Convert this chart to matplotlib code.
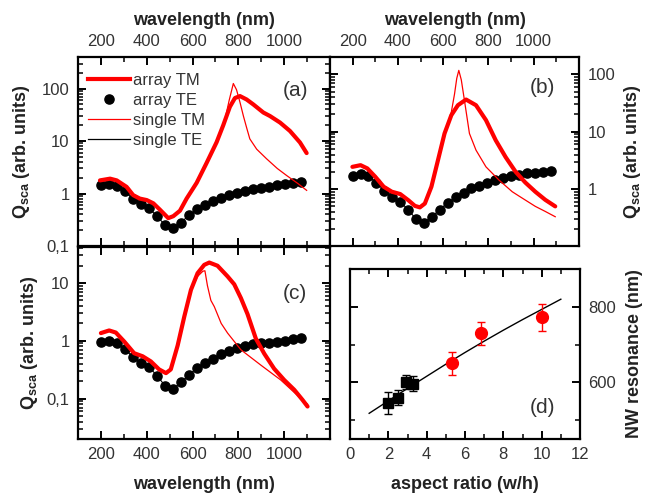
import matplotlib
matplotlib.use('Agg')
import matplotlib.pyplot as plt
from matplotlib.lines import Line2D
from matplotlib.ticker import LogLocator, FuncFormatter, MultipleLocator, NullFormatter, FixedLocator

plt.rcParams['font.family'] = ['Liberation Sans', 'DejaVu Sans']
plt.rcParams['mathtext.fontset'] = 'custom'
plt.rcParams['mathtext.rm'] = 'Liberation Sans'
plt.rcParams['mathtext.bf'] = 'Liberation Sans:bold'
plt.rcParams['mathtext.it'] = 'Liberation Sans:italic'

# ---------------- data ----------------
te_wl = [200, 235, 270, 305, 340, 375, 410, 445, 480, 515, 550, 585, 620, 655,
         690, 725, 760, 795, 830, 865, 900, 935, 970, 1005, 1040, 1075]

# panel (a)
a_te = [1.48, 1.55, 1.40, 1.10, 0.79, 0.62, 0.52, 0.37, 0.25, 0.225, 0.28, 0.39, 0.50,
        0.60, 0.72, 0.83, 0.93, 1.03, 1.10, 1.20, 1.28, 1.34, 1.43, 1.55, 1.61, 1.68]
a_tm_wl = [196, 240, 269, 312, 341, 370, 400, 429, 458, 494, 516, 545, 574, 618, 661,
           705, 734, 763, 785, 807, 836, 865, 909, 938, 982, 1025, 1069, 1098]
a_tm = [1.78, 1.92, 1.78, 1.34, 0.93, 0.80, 0.75, 0.65, 0.49, 0.34, 0.37, 0.47, 0.8,
        1.6, 3.8, 9.5, 20, 45, 66, 72, 62, 50, 35, 30, 22.5, 15.6, 9.4, 5.9]
a_stm_wl = [196, 240, 269, 312, 341, 370, 400, 429, 458, 494, 516, 545, 574, 618, 661,
            705, 740, 760, 778, 792, 807, 822, 836, 850, 880, 923, 970, 1011, 1060, 1098]
a_stm = [1.78, 1.92, 1.78, 1.34, 0.93, 0.80, 0.75, 0.65, 0.49, 0.34, 0.37, 0.47, 0.8,
         1.6, 3.8, 9.5, 24, 60, 125, 95, 55, 30, 18, 11, 7.0, 4.6, 3.0, 2.2, 1.55, 1.15]

# panel (b)
b_te = [1.68, 1.82, 1.68, 1.29, 0.93, 0.72, 0.60, 0.44, 0.30, 0.26, 0.33, 0.44, 0.58,
        0.72, 0.86, 1.03, 1.14, 1.29, 1.43, 1.53, 1.68, 1.77, 1.87, 1.92, 1.98, 2.03]
b_tm_wl = [199, 235, 265, 300, 337, 373, 410, 446, 475, 497, 519, 548, 577, 606, 636,
           665, 701, 745, 789, 832, 876, 920, 963, 1007, 1051, 1095]
b_tm = [2.44, 2.61, 2.29, 1.64, 1.10, 0.90, 0.82, 0.64, 0.51, 0.48, 0.56, 1.10, 3.19,
        9.3, 19.4, 28.9, 36.3, 28.9, 15.9, 7.1, 3.6, 2.0, 1.3, 0.9, 0.65, 0.5]
b_stm_wl = [199, 235, 265, 300, 337, 373, 410, 446, 475, 497, 519, 548, 577, 606, 636,
            650, 660, 669, 680, 694, 716, 745, 789, 847, 905, 934, 1007, 1050, 1095]
b_stm = [2.44, 2.61, 2.29, 1.64, 1.10, 0.90, 0.82, 0.64, 0.51, 0.48, 0.56, 1.10, 3.0,
         8.5, 22, 45, 85, 117, 80, 35, 9.3, 4.77, 2.44, 1.43, 0.9, 0.76, 0.5, 0.41, 0.33]

# panel (c)
c_te = [0.95, 1.01, 0.93, 0.72, 0.52, 0.42, 0.35, 0.25, 0.166, 0.148, 0.19, 0.26, 0.34,
        0.41, 0.49, 0.59, 0.67, 0.75, 0.80, 0.88, 0.90, 0.93, 0.97, 1.01, 1.07, 1.10]
c_tm_wl = [200, 236, 265, 302, 345, 382, 418, 454, 484, 505, 535, 564, 593, 622, 651,
           673, 709, 753, 782, 811, 840, 876, 913, 956, 1000, 1044, 1080, 1102]
c_tm = [1.36, 1.51, 1.39, 0.97, 0.61, 0.54, 0.44, 0.32, 0.276, 0.32, 0.83, 2.63, 7.6,
        14.8, 20.6, 22.6, 19.9, 13, 9.5, 5.5, 2.9, 1.1, 0.6, 0.33, 0.21, 0.142, 0.095, 0.073]
c_stm_wl = [200, 236, 265, 302, 345, 382, 418, 454, 484, 505, 535, 564, 593, 622, 645,
            654, 665, 680, 695, 725, 753, 811, 898, 985, 1073, 1102]
c_stm = [1.36, 1.51, 1.39, 0.97, 0.61, 0.54, 0.44, 0.32, 0.276, 0.32, 0.83, 2.63, 7.6,
         13, 16, 16.3, 9, 5, 3.9, 2.0, 1.36, 0.70, 0.38, 0.21, 0.10, 0.08]

# panel (d)
sq_ar = [2.0, 2.5, 2.92, 3.27]
sq_res = [545, 559, 601, 596]
sq_err = [30, 20, 18, 20]
ci_ar = [5.34, 6.82, 10.0]
ci_res = [650, 730, 772]
ci_err = [30, 31, 35]
fit_ar = [1, 2, 3, 4, 5, 6, 7, 8, 9, 10, 11]
fit_res = [518, 551, 584, 616, 648, 679, 709, 738, 766, 793, 820]

RED = '#ff0000'
TXT = '#333333'
LAB = '#222222'

W, H = 645, 500
fig = plt.figure(figsize=(W / 100, H / 100), dpi=100)


def rect(l, t, r, b):
    return [l / W, 1 - b / H, (r - l) / W, (b - t) / H]


ax_a = fig.add_axes(rect(78, 57, 330, 246))
ax_b = fig.add_axes(rect(330, 57, 579, 246))
ax_c = fig.add_axes(rect(78, 247, 330, 439))
ax_d = fig.add_axes(rect(350, 269, 580, 439))


def logfmt(v, pos):
    if v >= 1:
        return '%d' % round(v)
    return ('%g' % v).replace('.', ',')


def style_common(ax):
    for s in ax.spines.values():
        s.set_linewidth(1.6)
    ax.tick_params(which='both', direction='in', top=True, bottom=True,
                   left=True, right=True, labelsize=12, labelcolor=TXT, pad=6)
    ax.tick_params(which='major', length=6, width=1.4)
    ax.tick_params(which='minor', length=3.5, width=1.1)


def style_spec(ax, ylim):
    ax.set_yscale('log')
    ax.set_xlim(100, 1200)
    ax.set_ylim(*ylim)
    ax.xaxis.set_major_locator(FixedLocator([200, 400, 600, 800, 1000]))
    ax.xaxis.set_minor_locator(FixedLocator([300, 500, 700, 900, 1100]))
    ax.yaxis.set_major_locator(LogLocator(base=10, numticks=10))
    ax.yaxis.set_minor_locator(LogLocator(base=10, subs=[2, 3, 4, 5, 6, 7, 8, 9], numticks=20))
    ax.yaxis.set_major_formatter(FuncFormatter(logfmt))
    ax.yaxis.set_minor_formatter(NullFormatter())
    style_common(ax)


def draw_spec(ax, te, tm_wl, tm, stm_wl, stm):
    ax.plot(te_wl, te, color='black', lw=0.8, zorder=2)
    ax.plot(te_wl, te, 'o', color='black', ms=6.6, zorder=3)
    ax.plot(stm_wl, stm, color=RED, lw=0.9, zorder=4)
    ax.plot(tm_wl, tm, color=RED, lw=3, zorder=5, solid_capstyle='round')


ylab = r'$\mathbf{Q_{sca}}$ (arb. units)'

# (a)
draw_spec(ax_a, a_te, a_tm_wl, a_tm, a_stm_wl, a_stm)
style_spec(ax_a, (0.1, 400))
ax_a.tick_params(axis='x', labeltop=True, labelbottom=False)
ax_a.xaxis.set_label_position('top')
ax_a.set_xlabel('wavelength (nm)', fontsize=13, fontweight='bold', color=LAB, labelpad=6)
ax_a.set_ylabel(ylab, fontsize=13, fontweight='bold', color=LAB, labelpad=7)
ax_a.text(0.865, 0.825, '(a)', transform=ax_a.transAxes, fontsize=15, color=TXT,
          ha='center', va='center')
handles = [Line2D([], [], color=RED, lw=3),
           Line2D([], [], color='black', marker='o', ls='none', ms=6.6),
           Line2D([], [], color=RED, lw=0.9),
           Line2D([], [], color='black', lw=0.9)]
ax_a.legend(handles, ['array TM', 'array TE', 'single TM', 'single TE'],
            loc='upper left', frameon=False, fontsize=12, handlelength=2.5,
            handletextpad=0.2, labelspacing=0.3, borderaxespad=0.2,
            bbox_to_anchor=(0.0, 0.97), labelcolor=TXT)

# (b)
draw_spec(ax_b, b_te, b_tm_wl, b_tm, b_stm_wl, b_stm)
style_spec(ax_b, (0.102, 200))
ax_b.tick_params(axis='x', labeltop=True, labelbottom=False)
ax_b.tick_params(axis='y', labelleft=False, labelright=True)
ax_b.xaxis.set_label_position('top')
ax_b.yaxis.set_label_position('right')
ax_b.set_xlabel('wavelength (nm)', fontsize=13, fontweight='bold', color=LAB, labelpad=6)
ax_b.set_ylabel(ylab, fontsize=13, fontweight='bold', color=LAB, labelpad=5)
ax_b.text(0.855, 0.836, '(b)', transform=ax_b.transAxes, fontsize=15, color=TXT,
          ha='center', va='center')

# (c)
draw_spec(ax_c, c_te, c_tm_wl, c_tm, c_stm_wl, c_stm)
style_spec(ax_c, (0.02, 42))
ax_c.set_xlabel('wavelength (nm)', fontsize=13, fontweight='bold', color=LAB, labelpad=10)
ax_c.set_ylabel(ylab, fontsize=13, fontweight='bold', color=LAB, labelpad=5)
ax_c.text(0.861, 0.76, '(c)', transform=ax_c.transAxes, fontsize=15, color=TXT,
          ha='center', va='center')

# (d)
ax_d.plot(fit_ar, fit_res, color='black', lw=1.0, zorder=2)
ax_d.errorbar(sq_ar, sq_res, yerr=sq_err, fmt='s', color='black', ms=7, capsize=3,
              elinewidth=1, capthick=1, zorder=3)
ax_d.errorbar(ci_ar, ci_res, yerr=ci_err, fmt='o', color=RED, ms=8.5, capsize=3,
              elinewidth=1, capthick=1, zorder=3)
ax_d.set_xlim(0, 12)
ax_d.set_ylim(450, 900)
ax_d.xaxis.set_major_locator(MultipleLocator(2))
ax_d.xaxis.set_minor_locator(MultipleLocator(1))
ax_d.yaxis.set_major_locator(FixedLocator([600, 800]))
ax_d.yaxis.set_minor_locator(FixedLocator([500, 700, 900]))
style_common(ax_d)
ax_d.tick_params(axis='y', labelleft=False, labelright=True)
ax_d.yaxis.set_label_position('right')
ax_d.set_xlabel('aspect ratio (w/h)', fontsize=13, fontweight='bold', color=LAB, labelpad=10)
ax_d.set_ylabel('NW resonance (nm)', fontsize=13, fontweight='bold', color=LAB, labelpad=7)
ax_d.text(0.839, 0.188, '(d)', transform=ax_d.transAxes, fontsize=15, color=TXT,
          ha='center', va='center')

fig.savefig('out.png', dpi=100)
